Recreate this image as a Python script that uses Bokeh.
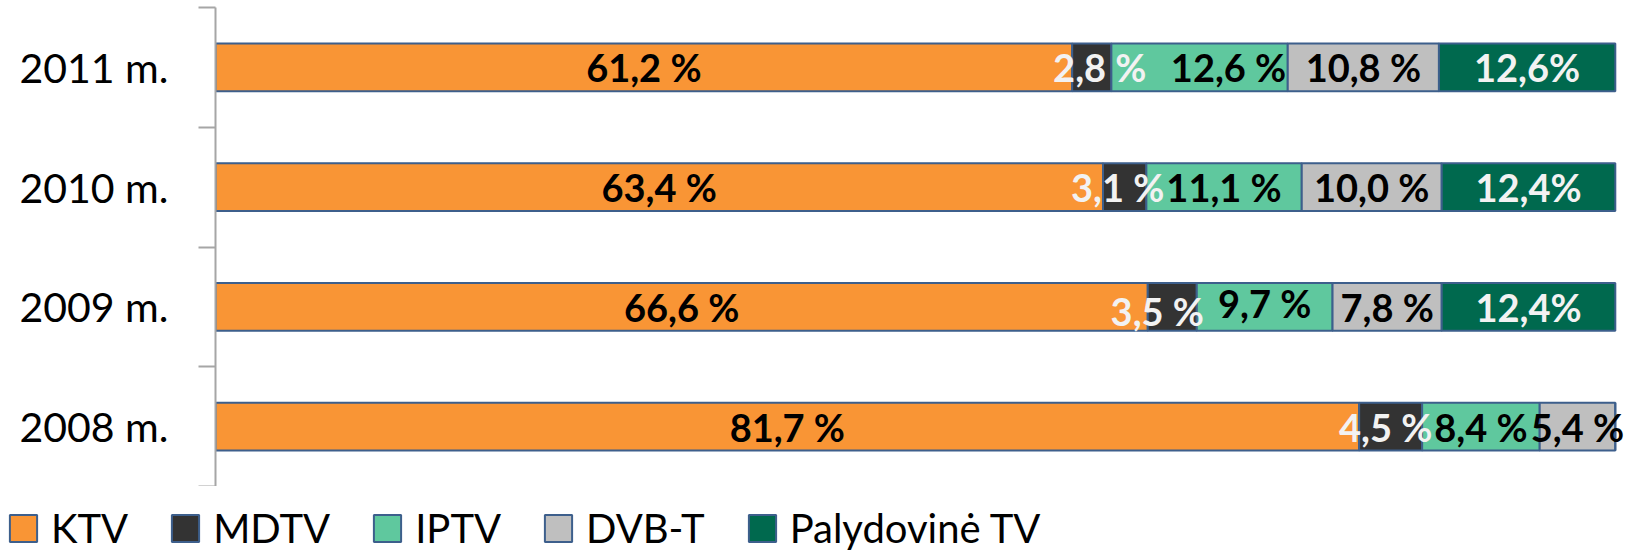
from bokeh.plotting import figure
from bokeh.layouts import column
from bokeh.models import ColumnDataSource, Range1d, FixedTicker, Legend, LegendItem
from bokeh.core.properties import value
from bokeh.embed import file_html
from bokeh.resources import INLINE

# ---- data (bottom to top) ----
years = ["2008 m.", "2009 m.", "2010 m.", "2011 m."]
series = ["KTV", "MDTV", "IPTV", "DVB-T", "Palydovinė TV"]
ktv = [81.7, 66.6, 63.4, 61.2]
mdtv = [4.5, 3.5, 3.1, 2.8]
iptv = [8.4, 9.7, 11.1, 12.6]
dvbt = [5.4, 7.8, 10.0, 10.8]
palyd = [0.0, 12.4, 12.4, 12.6]
values = [ktv, mdtv, iptv, dvbt, palyd]

# ---- styles ----
colors = ["#F99535", "#333333", "#5FC89E", "#BFBFBF", "#00694E"]
label_colors = ["#000000", "#F2F2F2", "#000000", "#000000", "#F2F2F2"]
label_suffix = [" %", " %", " %", " %", "%"]
label_shift = {(3, 2): (29, 0), (3, 1): (8, 0), (2, 1): (-7, 0), (0, 1): (-5, 0),
               (1, 1): (-15, 4), (1, 2): (0, -4)}
FONT = "Lato"
OUTLINE = "#3D5F8C"

centers = [i + 0.5 for i in range(len(years))]
keys = ["s%d" % i for i in range(len(series))]
data = {"y": centers}
for k, v in zip(keys, values):
    data[k] = v
src = ColumnDataSource(data)

p = figure(width=1626, height=486, x_range=Range1d(0, 100.8), y_range=Range1d(0, 4),
           output_backend="svg", toolbar_location=None, x_axis_location=None)
p.min_border_top = 7
p.min_border_bottom = 0
p.min_border_left = 215
p.min_border_right = 0
p.outline_line_color = None
p.grid.visible = False

p.hbar_stack(keys, y="y", height=0.4, color=colors, source=src,
             line_color=OUTLINE, line_width=2)

# data labels
lx, ly, lt, lc, dx, dy = [], [], [], [], [], []
for si, vals in enumerate(values):
    for yi, v in enumerate(vals):
        if v <= 0:
            continue
        left = sum(values[k][yi] for k in range(si))
        lx.append(left + v / 2)
        ly.append(centers[yi])
        lt.append(("%.1f" % v).replace(".", ",") + label_suffix[si])
        lc.append(label_colors[si])
        off = label_shift.get((yi, si), (0, 0))
        dx.append(off[0])
        dy.append(off[1])
lsrc = ColumnDataSource(dict(x=lx, y=ly, t=lt, c=lc, dx=dx, dy=dy))
p.text(x="x", y="y", text="t", text_color="c", x_offset="dx", y_offset="dy",
       text_align="center", text_baseline="middle", text_font=value(FONT),
       text_font_style="bold", text_font_size="38px", source=lsrc)

# y axis: labels at band centres, tick marks at band boundaries
ax = p.yaxis[0]
ax.ticker = FixedTicker(ticks=centers, minor_ticks=list(range(len(years) + 1)))
ax.major_label_overrides = {c: y for c, y in zip(centers, years)}
ax.major_tick_out = 0
ax.major_tick_in = 0
ax.minor_tick_out = 17
ax.minor_tick_in = 0
ax.axis_line_color = "#A6A6A6"
ax.axis_line_width = 2
ax.minor_tick_line_color = "#A6A6A6"
ax.minor_tick_line_width = 2
ax.major_label_text_font = FONT
ax.major_label_text_font_size = "41px"
ax.major_label_text_color = "#000000"
ax.major_label_standoff = 30

# legend strip below (hidden copies of the series renderers feed the legend)
p2 = figure(width=1626, height=66, x_range=Range1d(0, 100.8), y_range=Range1d(0, 4),
            output_backend="svg", toolbar_location=None,
            x_axis_location=None, y_axis_location=None)
p2.min_border = 0
p2.frame_align = False
p2.outline_line_color = None
p2.grid.visible = False
lrs = p2.hbar_stack(keys, y="y", height=0.4, color=colors, source=src,
                    line_color=OUTLINE, line_width=2)
for r in lrs:
    r.visible = False
legend = Legend(items=[LegendItem(label=s, renderers=[r]) for s, r in zip(series, lrs)],
                orientation="horizontal", location=(6, 0), click_policy="none",
                inactive_fill_alpha=0,
                glyph_width=34, glyph_height=34, label_text_font=FONT,
                label_text_font_size="40px", label_text_color="#000000",
                label_standoff=11, spacing=40,
                padding=0, margin=0, border_line_color=None, background_fill_alpha=0)
p2.add_layout(legend)

open("out.html", "w").write(file_html(column(p, p2, spacing=0), INLINE))
